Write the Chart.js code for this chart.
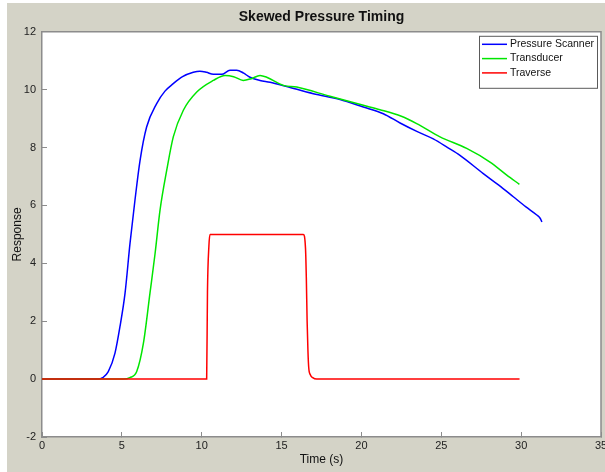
<!DOCTYPE html>
<html>
<head>
<meta charset="utf-8">
<title>Skewed Pressure Timing</title>
<script src="https://cdn.jsdelivr.net/npm/chart.js@4"></script>
<style>
    html, body { margin: 0; padding: 0; background: #fff; }
    #chart { display: block; }
</style>
</head>
<body>
<canvas id="chart" width="605" height="472"></canvas>
<script>
// ---- Data ----

const scannerTime = [0, 3.5, 3.8, 4.15, 4.57, 4.88, 5.2, 5.51, 5.82, 6.14, 6.55, 7.18, 7.7, 8.22, 8.8, 9.47, 9.89, 10.3, 10.73, 11.25, 11.77, 12.19, 12.6, 13.02, 13.65, 14.28, 15.32, 16.99, 18.66, 20.12, 21.37, 22.42, 23.5, 24.5, 25.4, 26.17, 27.63, 28.6, 29.51, 30.3, 30.98, 31.2, 31.3];
const scannerResp = [0, 0, 0.05, 0.26, 0.9, 1.81, 2.97, 4.69, 6.18, 7.56, 8.71, 9.52, 9.95, 10.21, 10.45, 10.6, 10.64, 10.6, 10.53, 10.53, 10.67, 10.67, 10.58, 10.43, 10.32, 10.26, 10.11, 9.86, 9.66, 9.4, 9.17, 8.85, 8.55, 8.3, 8.0, 7.73, 7.1, 6.7, 6.3, 5.95, 5.67, 5.55, 5.43];

const transTime = [0, 5.1, 5.5, 5.93, 6.35, 6.76, 7.08, 7.39, 7.81, 8.22, 8.85, 9.69, 10.73, 11.46, 12.0, 12.6, 13.1, 13.65, 14.07, 15.11, 15.95, 18.03, 20.12, 21.16, 22.5, 23.46, 24.92, 26.59, 28.05, 29.1, 29.89];
const transResp = [0, 0, 0.05, 0.26, 1.24, 2.97, 4.34, 5.84, 7.22, 8.37, 9.29, 9.92, 10.32, 10.49, 10.45, 10.32, 10.38, 10.49, 10.43, 10.15, 10.09, 9.77, 9.46, 9.31, 9.08, 8.83, 8.37, 7.97, 7.5, 7.05, 6.73];

const traverseTime = [0, 10.31, 10.36, 10.45, 10.52, 16.36, 16.5, 16.55, 16.6, 16.65, 16.7, 16.8, 16.95, 17.2, 29.9];
const traverseResp = [0, 0, 3.0, 4.6, 5.0, 5.0, 4.5, 3.5, 2.0, 1.0, 0.4, 0.15, 0.05, 0, 0];

const seriesNames = ['Pressure Scanner', 'Transducer', 'Traverse'];
const seriesColors = ['#0000ff', '#00e600', '#ff0000'];

const xTicks = { min: 0, max: 35, step: 5 };
const yTicks = { min: -2, max: 12, step: 2 };

// ---- Helpers ----

const FONT = 'Liberation Sans, Arial, Helvetica, sans-serif';
const AXIS_GRAY = '#8c8c8c';

function toPoints(xs, ys) {
    return xs.map((x, i) => ({ x: x, y: ys[i] }));
}

function lineSet(i, xs, ys, order) {
    return {
        label: seriesNames[i],
        data: toPoints(xs, ys),
        borderColor: seriesColors[i],
        backgroundColor: seriesColors[i],
        borderWidth: 1.5,
        pointRadius: 0,
        cubicInterpolationMode: 'monotone',
        order: order
    };
}

// Figure background, white axes, box on top/right
const figurePlugin = {
    id: 'figure',
    beforeDraw(chart) {
        const { ctx, chartArea: a, width, height } = chart;
        ctx.save();
        ctx.fillStyle = '#ffffff';
        ctx.fillRect(0, 0, width, height);
        ctx.fillStyle = '#d4d3c7';
        ctx.fillRect(7, 3, width - 7, height - 3);
        ctx.fillStyle = '#ffffff';
        ctx.fillRect(a.left, a.top, a.right - a.left, a.bottom - a.top);
        ctx.restore();
    },
    afterDraw(chart) {
        const { ctx, chartArea: a } = chart;
        ctx.save();
        ctx.strokeStyle = AXIS_GRAY;
        ctx.lineWidth = 1.5;
        ctx.beginPath();
        ctx.moveTo(a.left, a.top);
        ctx.lineTo(a.right, a.top);
        ctx.lineTo(a.right, a.bottom);
        ctx.stroke();

        // boxed legend, top right inside the axes
        const x0 = a.right - 122, y0 = a.top + 4, w = 118, h = 52;
        ctx.fillStyle = '#ffffff';
        ctx.fillRect(x0, y0, w, h);
        ctx.strokeStyle = '#5a5a5a';
        ctx.lineWidth = 1;
        ctx.strokeRect(x0 + 0.5, y0 + 0.5, w, h);
        ctx.font = '10.5px ' + FONT;
        ctx.textBaseline = 'middle';
        ctx.textAlign = 'left';
        seriesNames.forEach((name, i) => {
            const y = y0 + 8.5 + i * 14.3;
            ctx.strokeStyle = seriesColors[i];
            ctx.lineWidth = 1.5;
            ctx.beginPath();
            ctx.moveTo(x0 + 3, y);
            ctx.lineTo(x0 + 28, y);
            ctx.stroke();
            ctx.fillStyle = '#111';
            ctx.fillText(name, x0 + 31, y);
        });
        ctx.restore();
    }
};

// ---- Chart ----

new Chart(document.getElementById('chart'), {
    type: 'line',
    data: {
        datasets: [
            lineSet(0, scannerTime, scannerResp, 2),
            lineSet(1, transTime, transResp, 1),
            lineSet(2, traverseTime, traverseResp, 0)
        ]
    },
    options: {
        responsive: false,
        animation: false,
        devicePixelRatio: 1,
        layout: { padding: { left: 0, right: 4, top: 0, bottom: 0 } },
        plugins: {
            legend: { display: false },
            tooltip: { enabled: false },
            title: {
                display: true,
                text: 'Skewed Pressure Timing',
                fullSize: false,
                color: '#111',
                font: { family: FONT, size: 14, weight: 'bold' },
                padding: { top: 9, bottom: 6 }
            }
        },
        scales: {
            x: {
                type: 'linear',
                min: xTicks.min,
                max: xTicks.max,
                ticks: { stepSize: xTicks.step, color: '#222', font: { family: FONT, size: 11 }, padding: 7, maxRotation: 0 },
                grid: { drawOnChartArea: false, drawTicks: true, tickLength: -5, color: AXIS_GRAY, lineWidth: 1 },
                border: { color: AXIS_GRAY, width: 1.5 },
                title: { display: true, text: 'Time (s)', color: '#111', font: { family: FONT, size: 12 }, padding: { top: 0, bottom: 5 } },
                afterFit(s) { s.height = 35; s.paddingLeft = 0; s.paddingRight = 0; }
            },
            y: {
                min: yTicks.min,
                max: yTicks.max,
                ticks: { stepSize: yTicks.step, color: '#222', font: { family: FONT, size: 11 }, padding: 11 },
                grid: { drawOnChartArea: false, drawTicks: true, tickLength: -5, color: AXIS_GRAY, lineWidth: 1 },
                border: { color: AXIS_GRAY, width: 1.5 },
                title: { display: true, text: 'Response', color: '#111', font: { family: FONT, size: 12 }, padding: { top: 10, bottom: 0 } },
                afterFit(s) { s.width = 42; s.paddingTop = 0; s.paddingBottom = 0; }
            }
        }
    },
    plugins: [figurePlugin]
});
</script>
</body>
</html>
